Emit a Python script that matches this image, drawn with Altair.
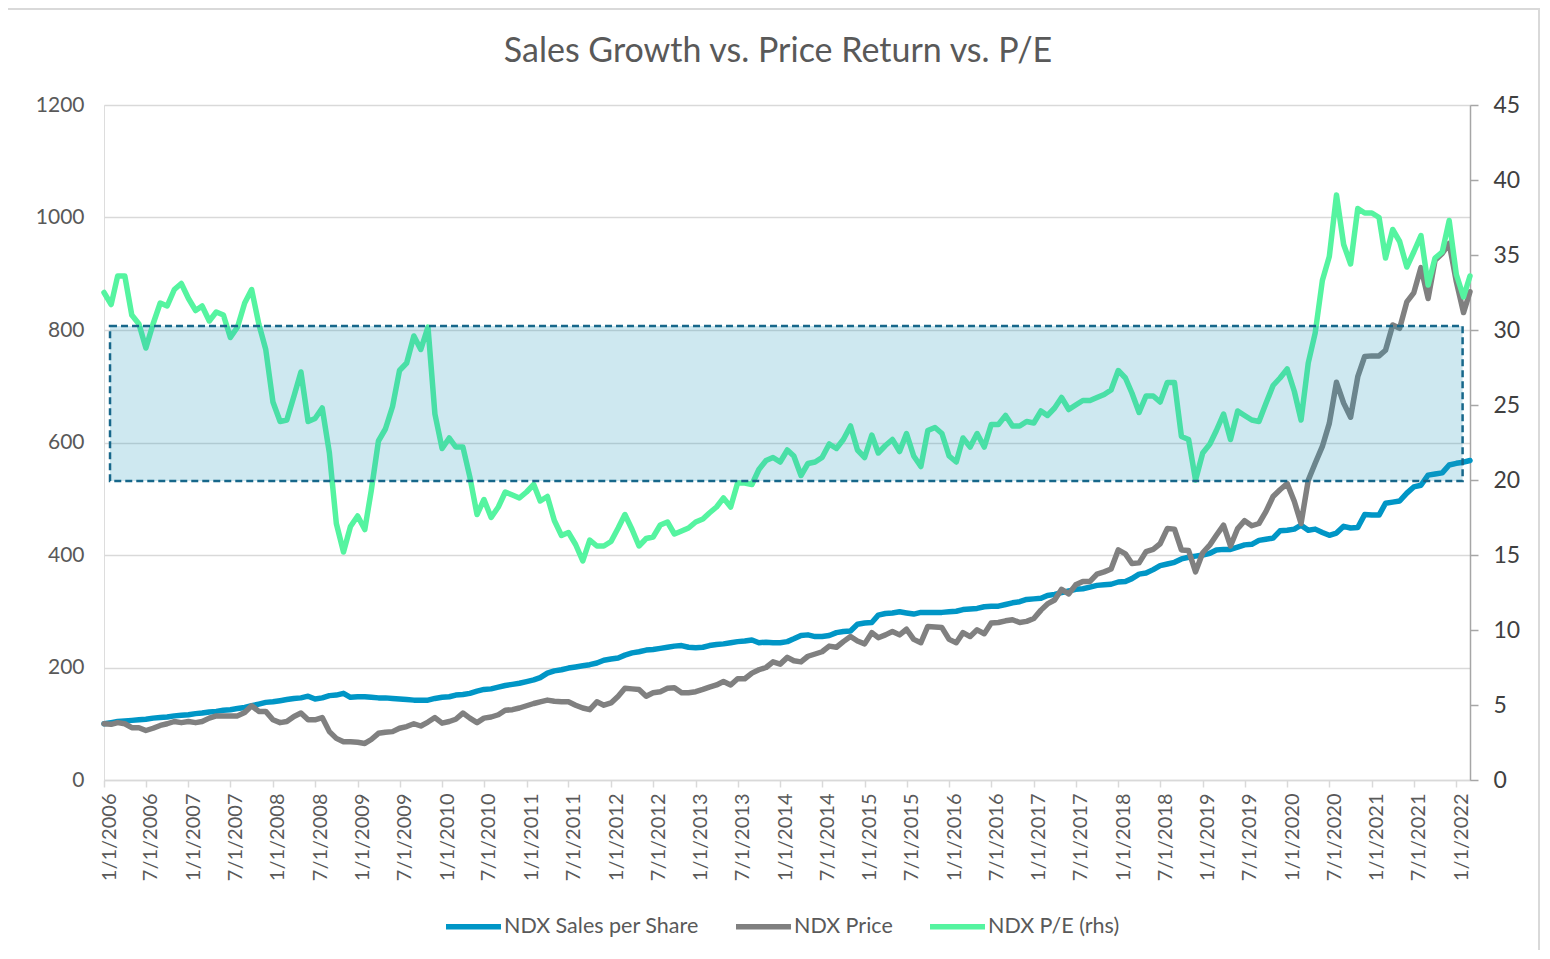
import altair as alt
import pandas as pd

# ---- data (monthly, first month Jan 2006) ----
start_year = 2006
series_names = ["NDX Sales per Share", "NDX Price", "NDX P/E (rhs)"]
series_colors = ["#0096c6", "#808080", "#55f4a0"]
series_widths = [5.5, 5.5, 3.5]

sales = [100, 102, 104, 105, 106, 107, 108, 110, 111, 112, 114, 115, 116, 118, 119, 121, 122, 124, 125, 127,
         129, 132, 135, 138, 139, 141, 143, 145, 146, 149, 144, 146, 150, 151, 154, 147, 148, 148, 147, 146,
         146, 145, 144, 143, 142, 142, 142, 145, 147, 148, 151, 152, 154, 158, 161, 162, 165, 168, 170, 172,
         175, 178, 182, 190, 194, 196, 199, 201, 203, 205, 208, 213, 215, 217, 222, 226, 228, 231, 232, 234,
         236, 238, 239, 236, 235, 236, 239, 241, 242, 244, 246, 247, 249, 244, 245, 244, 244, 246, 251, 257,
         258, 255, 255, 257, 262, 264, 265, 277, 279, 280, 293, 296, 297, 299, 297, 295, 298, 298, 298, 298,
         299, 300, 303, 304, 305, 308, 309, 309, 312, 315, 317, 321, 322, 323, 328, 330, 333, 336, 339, 340,
         343, 346, 347, 348, 352, 353, 358, 366, 368, 374, 381, 384, 387, 393, 396, 398, 400, 403, 409, 410,
         410, 414, 418, 419, 426, 428, 430, 443, 444, 446, 453, 444, 446, 440, 435, 439, 451, 448, 449, 472,
         471, 471, 492, 494, 496, 510, 521, 524, 542, 544, 546, 560, 563, 565, 568]

price = [100, 99, 102, 100, 93, 93, 88, 92, 97, 100, 104, 102, 104, 102, 104, 110, 114, 114, 114, 114,
         120, 132, 122, 122, 107, 102, 104, 113, 119, 107, 107, 111, 86, 74, 68, 68, 67, 65, 72, 83,
         85, 86, 92, 95, 100, 96, 103, 111, 101, 104, 108, 119, 110, 102, 110, 112, 116, 124, 125, 128,
         132, 136, 139, 142, 140, 139, 139, 133, 128, 125, 139, 133, 137, 149, 163, 162, 161, 149, 155, 157,
         163, 164, 155, 155, 157, 161, 165, 169, 175, 169, 180, 180, 190, 196, 200, 210, 206, 218, 212, 210,
         220, 224, 228, 238, 236, 246, 255, 247, 242, 262, 253, 258, 264, 258, 268, 250, 244, 273, 272, 271,
         250, 244, 262, 255, 267, 260, 279, 280, 283, 285, 280, 282, 287, 302, 313, 320, 339, 331, 347, 353,
         353, 366, 370, 375, 409, 402, 385, 386, 406, 410, 420, 447, 446, 409, 408, 370, 404, 418, 435, 453,
         416, 447, 461, 452, 456, 477, 504, 516, 527, 495, 456, 533, 563, 593, 634, 707, 670, 645, 717, 753,
         754, 754, 764, 809, 803, 850, 866, 911, 856, 924, 936, 954, 886, 831, 868]

pe = [32.5, 31.7, 33.6, 33.6, 31.0, 30.4, 28.8, 30.4, 31.8, 31.6, 32.7, 33.1, 32.1, 31.3, 31.6, 30.6, 31.2, 31.0, 29.5, 30.2,
      31.8, 32.7, 30.4, 28.7, 25.2, 23.9, 24.0, 25.6, 27.2, 23.9, 24.1, 24.8, 21.8, 17.1, 15.2, 16.9, 17.6, 16.7, 19.3, 22.6,
      23.4, 24.9, 27.3, 27.8, 29.6, 28.7, 30.2, 24.4, 22.1, 22.8, 22.2, 22.2, 20.2, 17.7, 18.7, 17.5, 18.2, 19.2, 19.0, 18.8,
      19.2, 19.7, 18.6, 18.9, 17.3, 16.3, 16.5, 15.7, 14.6, 16.0, 15.6, 15.6, 15.9, 16.8, 17.7, 16.7, 15.6, 16.1, 16.2, 17.0,
      17.2, 16.4, 16.6, 16.8, 17.2, 17.4, 17.8, 18.2, 18.8, 18.2, 19.8, 19.8, 19.7, 20.7, 21.3, 21.5, 21.2, 22.0, 21.6, 20.3,
      21.1, 21.2, 21.5, 22.4, 22.1, 22.7, 23.6, 22.0, 21.5, 23.0, 21.8, 22.3, 22.7, 21.9, 23.1, 21.6, 20.9, 23.3, 23.5, 23.1,
      21.6, 21.2, 22.8, 22.2, 23.1, 22.2, 23.7, 23.7, 24.3, 23.6, 23.6, 23.9, 23.8, 24.6, 24.3, 24.8, 25.5, 24.7, 25.0, 25.3,
      25.3, 25.5, 25.7, 26.0, 27.3, 26.8, 25.8, 24.5, 25.6, 25.6, 25.2, 26.5, 26.5, 22.9, 22.7, 20.0, 21.8, 22.4, 23.3, 24.4,
      22.7, 24.6, 24.3, 24.0, 23.9, 25.1, 26.3, 26.8, 27.4, 25.9, 24.0, 27.8, 29.8, 33.3, 34.9, 39.0, 35.7, 34.4, 38.1, 37.8,
      37.8, 37.5, 34.8, 36.7, 35.9, 34.2, 35.2, 36.3, 33.0, 34.8, 35.2, 37.3, 33.7, 32.2, 33.6]

# highlighted P/E band (rhs scale)
box_start = ["2006-01-27T00:00:00"]
box_end = ["2022-01-28T00:00:00"]
box_low = [19.93]
box_high = [30.27]

left_ticks = [0, 200, 400, 600, 800, 1000, 1200]
right_ticks = [0, 5, 10, 15, 20, 25, 30, 35, 40, 45]
label_years = list(range(2006, 2023))

FONT = "Lato"
TXT = "#595959"


def month_date(i):
    y = start_year + i // 12
    m = i % 12 + 1
    return f"{y}-{m:02d}-01T00:00:00"


rows = []
for i, v in enumerate(sales):
    rows.append({"date": month_date(i), "value": v, "series": series_names[0]})
for i, v in enumerate(price):
    rows.append({"date": month_date(i), "value": v, "series": series_names[1]})
df_left = pd.DataFrame(rows)
df_right = pd.DataFrame({"date": [month_date(i) for i in range(len(pe))],
                         "value": pe, "series": series_names[2]})
df_box = pd.DataFrame({"start": box_start, "end": box_end, "low": box_low, "high": box_high})

tick_dates = []
for y in label_years:
    tick_dates.append(alt.DateTime(year=y, month=1, date=1))
    if y < 2022:
        tick_dates.append(alt.DateTime(year=y, month=7, date=1))

x_scale = alt.Scale(domain=[alt.DateTime(year=2006, month=1, date=1),
                            alt.DateTime(year=2022, month=3, date=1)])
x_axis = alt.Axis(values=tick_dates, format="%-m/%-d/%Y", labelAngle=270, grid=False,
                  domainColor="#d9d9d9", domainWidth=1.5, tickColor="#d9d9d9", tickSize=7,
                  tickWidth=1.5, labelPadding=6, labelOffset=5, labelFontSize=20, labelColor=TXT,
                  labelFont=FONT, title=None, labelOverlap=False, labelFlush=False)

color_enc = alt.Color("series:N",
                      scale=alt.Scale(domain=series_names, range=series_colors),
                      legend=alt.Legend(orient="none", legendX=339, legendY=791,
                                        direction="horizontal", title=None,
                                        symbolType="stroke", symbolSize=3025,
                                        symbolStrokeWidth=5, labelFontSize=21.5,
                                        labelColor=TXT, labelFont=FONT, labelOffset=0,
                                        labelLimit=0, columnPadding=26, symbolOpacity=1))
width_enc = alt.StrokeWidth("series:N",
                            scale=alt.Scale(domain=series_names, range=series_widths),
                            legend=None)

left = alt.Chart(df_left).mark_line(strokeJoin="round", strokeCap="round").encode(
    x=alt.X("date:T", scale=x_scale, axis=x_axis),
    y=alt.Y("value:Q", scale=alt.Scale(domain=[0, 1200]),
            axis=alt.Axis(values=left_ticks, format="d", orient="left", grid=True,
                          gridColor="#d9d9d9", gridWidth=1.5, domain=False, ticks=False,
                          labelPadding=20, labelFontSize=21, labelColor=TXT, labelFont=FONT,
                          title=None)),
    color=color_enc,
    strokeWidth=width_enc,
)

right = alt.Chart(df_right).mark_line(strokeJoin="round", strokeCap="round").encode(
    x=alt.X("date:T", scale=x_scale, axis=x_axis),
    y=alt.Y("value:Q", scale=alt.Scale(domain=[0, 45]),
            axis=alt.Axis(values=right_ticks, orient="right", grid=False, domain=True,
                          domainColor="#a6a6a6", domainWidth=1.5, ticks=True,
                          tickColor="#a6a6a6", tickWidth=1.5, tickSize=8, labelPadding=15,
                          labelFontSize=23, labelColor="#404040", labelFont=FONT, title=None)),
    color=color_enc,
    strokeWidth=width_enc,
)

box = alt.Chart(df_box).mark_rect(fill="#1e96bb", fillOpacity=0.22, stroke="#17678a",
                                  strokeWidth=2.5, strokeDash=[7, 4], strokeOpacity=1).encode(
    x=alt.X("start:T", scale=x_scale, axis=x_axis),
    x2="end:T",
    y=alt.Y("low:Q", scale=alt.Scale(domain=[0, 45]), axis=None),
    y2="high:Q",
)

# light chart-area frame (top and right edges visible)
frame = alt.Chart(pd.DataFrame({"k": [0]})).mark_rect(
    fill=None, fillOpacity=0, stroke="#d9d9d9", strokeWidth=2, clip=False
).encode(
    x=alt.value(-108), x2=alt.value(1435),
    y=alt.value(-96), y2=alt.value(860),
)

chart = alt.layer(left, right, box, frame).resolve_scale(y="independent").properties(
    width=1366, height=675,
    title=alt.TitleParams("Sales Growth vs. Price Return vs. P/E", fontSize=34, font=FONT,
                          fontWeight="normal", color=TXT, anchor="middle", offset=-61, dx=-9),
    autosize=alt.AutoSizeParams(type="none"),
    padding={"left": 96, "top": 97, "right": 70, "bottom": 170},
).configure_view(stroke=None).configure(background="white")

chart.save("out.html", embed_options={"renderer": "svg", "actions": False})
